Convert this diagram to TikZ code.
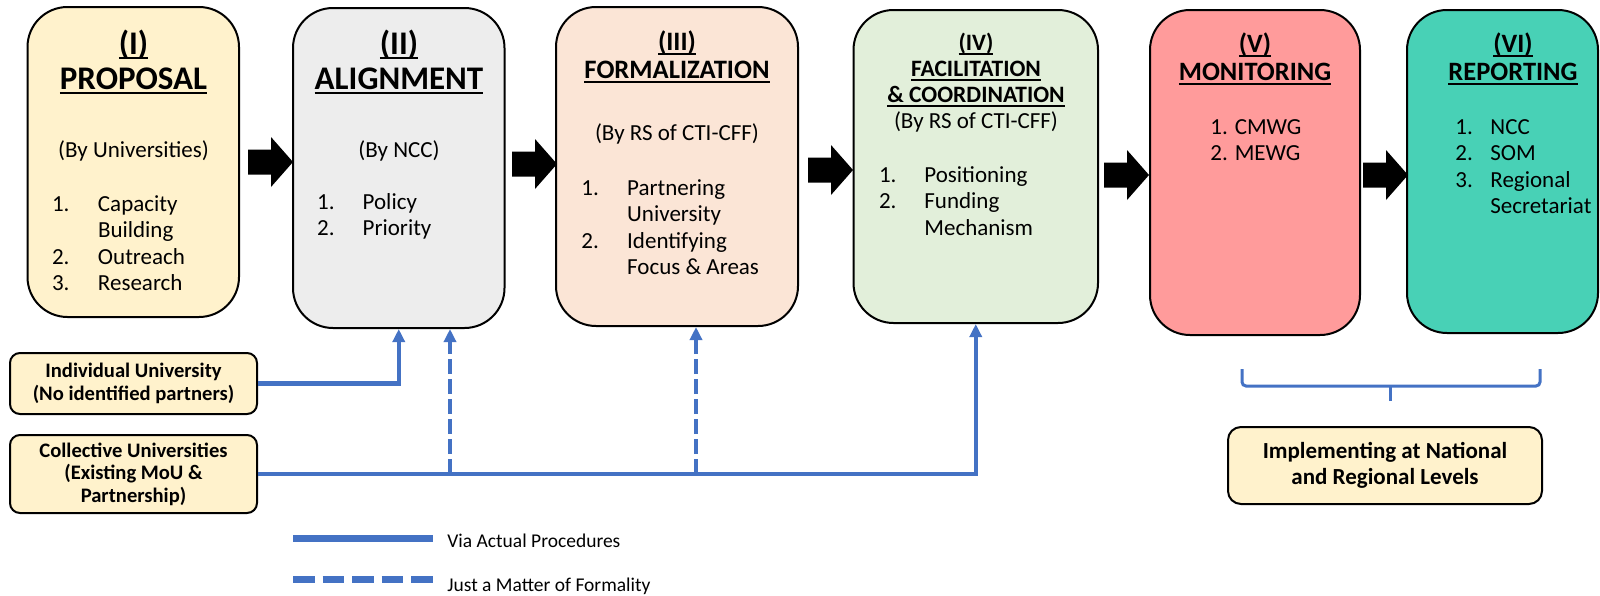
\documentclass[tikz,border=0pt]{standalone}
\usepackage{fontspec}
\setmainfont{Carlito}
\usetikzlibrary{arrows.meta}
\definecolor{propfill}{HTML}{FFF2CC}
\definecolor{alignfill}{HTML}{EDEDED}
\definecolor{formfill}{HTML}{FBE5D6}
\definecolor{facilfill}{HTML}{E2EFDA}
\definecolor{monitfill}{HTML}{FF9B9B}
\definecolor{reportfill}{HTML}{48D1B6}
\definecolor{procblue}{HTML}{4472C4}
\newcommand{\ulbox}[1]{\setbox0\hbox{#1}\rlap{\smash{\rule[-2.5pt]{\wd0}{1pt}}}\box0}
\tikzset{stage/.style = {draw, line width=1pt, rounded corners=20pt, inner sep=0pt}}
\tikzset{unit/.style = {draw, line width=1pt, rounded corners=5pt, fill=propfill, inner sep=0pt, align=center, font=\bfseries\fontsize{10.3}{11.25}\selectfont}}
\tikzset{ttl/.style = {anchor=base, inner sep=0pt}}
\tikzset{txt/.style = {anchor=base, inner sep=0pt, font=\fontsize{11.5}{13.33}\selectfont}}
\tikzset{lst/.style = {txt, anchor=base west}}
\tikzset{proc/.style = {draw=procblue, line width=2.25pt}}
\tikzset{formal/.style = {draw=procblue, line width=1.75pt, dash pattern=on 7.5pt off 2.5pt}}
\tikzset{uparrow/.style = {-{Triangle[width=6pt,length=6.5pt]}}}
\tikzset{blockarrow/.pic = {\fill (-45,-12.5) -- (-22,-12.5) -- (-22,-25) -- (0,0) -- (-22,25) -- (-22,12.5) -- (-45,12.5) -- cycle;}}

\begin{document}
\begin{tikzpicture}[x=0.5pt, y=-0.5pt]
\useasboundingbox (0,0) rectangle (1600,595);
% stages
\node[stage, fill=propfill, minimum width=105.75pt, minimum height=155pt] (I) at (133.25,162) {};
\node[stage, fill=alignfill, minimum width=105.75pt, minimum height=160pt] (II) at (398.75,168) {};
\node[stage, fill=formfill, minimum width=121pt, minimum height=159.5pt] (III) at (677,166.5) {};
\node[stage, fill=facilfill, minimum width=122.25pt, minimum height=156.5pt] (IV) at (975.75,166.5) {};
\node[stage, fill=monitfill, minimum width=105pt, minimum height=162.5pt] (V) at (1255,172.5) {};
\node[stage, fill=reportfill, minimum width=95.5pt, minimum height=161.5pt] (VI) at (1502.5,171.5) {};
% titles
\node[ttl, font=\bfseries\fontsize{16.5}{17.5}\selectfont] (I-title) at (133.5,54) {\begin{tabular}[t]{@{}c@{}}\ulbox{(I)}\\\ulbox{PROPOSAL}\end{tabular}};
\node[ttl, font=\bfseries\fontsize{16.5}{17.5}\selectfont] (II-title) at (399,54) {\begin{tabular}[t]{@{}c@{}}\ulbox{(II)}\\\ulbox{ALIGNMENT}\end{tabular}};
\node[ttl, font=\bfseries\fontsize{13.3}{14}\selectfont] (III-title) at (677,50) {\begin{tabular}[t]{@{}c@{}}\ulbox{(III)}\\\ulbox{FORMALIZATION}\end{tabular}};
\node[ttl, font=\bfseries\fontsize{11.75}{13}\selectfont] (IV-title) at (976,50) {\begin{tabular}[t]{@{}c@{}}\ulbox{(IV)}\\\ulbox{FACILITATION}\\\ulbox{\& COORDINATION}\end{tabular}};
\node[ttl, font=\bfseries\fontsize{13.25}{14}\selectfont] (V-title) at (1255,52) {\begin{tabular}[t]{@{}c@{}}\ulbox{(V)}\\\ulbox{MONITORING}\end{tabular}};
\node[ttl, font=\bfseries\fontsize{13.25}{14}\selectfont] (VI-title) at (1513,52) {\begin{tabular}[t]{@{}c@{}}\ulbox{(VI)}\\\ulbox{REPORTING}\end{tabular}};
% by whom
\node[txt] (I-by) at (133.5,157) {(By Universities)};
\node[txt] (II-by) at (399,157) {(By NCC)};
\node[txt] (III-by) at (677,140) {(By RS of CTI-CFF)};
\node[txt] (IV-by) at (976,128) {(By RS of CTI-CFF)};
% lists
\node[lst] (I-list) at (51.6,211) {\begin{tabular}[t]{@{}p{23pt}@{}l@{}}1.&Capacity\\&Building\\2.&Outreach\\3.&Research\end{tabular}};
\node[lst] (II-list) at (316.8,209) {\begin{tabular}[t]{@{}p{22.75pt}@{}l@{}}1.&Policy\\2.&Priority\end{tabular}};
\node[lst] (III-list) at (581,195) {\begin{tabular}[t]{@{}p{22.9pt}@{}l@{}}1.&Partnering\\&University\\2.&Identifying\\&Focus \& Areas\end{tabular}};
\node[lst] (IV-list) at (878.6,182) {\begin{tabular}[t]{@{}p{22.7pt}@{}l@{}}1.&Positioning\\2.&Funding\\&Mechanism\end{tabular}};
\node[lst] (V-list) at (1210,134) {\begin{tabular}[t]{@{}l@{}}1. CMWG\\2. MEWG\end{tabular}};
\node[lst] (VI-list) at (1455,134) {\begin{tabular}[t]{@{}p{17.5pt}@{}l@{}}1.&NCC\\2.&SOM\\3.&Regional\\&Secretariat\end{tabular}};
% block arrows
\pic at (293,162) {blockarrow};
\pic at (557,164) {blockarrow};
\pic at (853,170) {blockarrow};
\pic at (1149,175) {blockarrow};
\pic at (1408,175) {blockarrow};
% universities
\node[unit, minimum width=123.5pt, minimum height=30.5pt] (indiv) at (133.5,383.5) {Individual University\\(No identified partners)};
\node[unit, minimum width=123.5pt, minimum height=39pt] (coll) at (133.5,474) {Collective Universities\\(Existing MoU \&\\Partnership)};
\node[unit, rounded corners=6.5pt, minimum width=157pt, minimum height=38.5pt, font=\bfseries\fontsize{11.5}{13}\selectfont] (impl) at (1385,465.5) {Implementing at National\\and Regional Levels};
% connectors
\coordinate (j1) at (450,474);
\coordinate (j2) at (696,474);
\draw[proc, uparrow] (indiv.east) -| (II.south);
\draw[proc, uparrow] (coll.east) -| (IV.south);
\draw[formal, uparrow] (j1) -- (j1 |- II.south);
\draw[formal, uparrow] (j2) -- (j2 |- III.south);
% brace
\coordinate (bl) at (1242,369);
\coordinate (br) at (1540,369);
\coordinate (bm) at (1390,401);
\draw[procblue, line width=1.5pt, rounded corners=2pt] (bl) -- ++(0,17) -| (br);
\draw[procblue, line width=1.5pt] (bm) -- ++(0,-15);
% legend
\coordinate (l1) at (293,538);
\coordinate (l2) at (433,538);
\coordinate (l3) at (293,579);
\coordinate (l4) at (433,579);
\draw[proc, line width=3.5pt] (l1) -- (l2);
\draw[proc, line width=3.5pt, dash pattern=on 10.75pt off 4pt] (l3) -- (l4);
\node[anchor=base west, inner sep=0pt, font=\fontsize{9.75}{11}\selectfont] (l-proc) at (447,547) {Via Actual Procedures};
\node[anchor=base west, inner sep=0pt, font=\fontsize{9.75}{11}\selectfont] (l-formal) at (447,591) {Just a Matter of Formality};
\end{tikzpicture}
\end{document}
